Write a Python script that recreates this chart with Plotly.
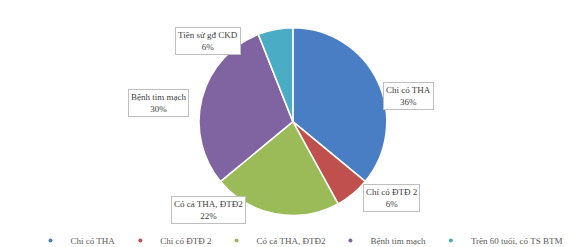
import plotly.graph_objects as go

categories = ["Chỉ có THA", "Chỉ có ĐTĐ 2", "Có cả THA, ĐTĐ2", "Bệnh tim mạch", "Trên 60 tuổi, có TS BTM"]
box_labels = ["Chỉ có THA", "Chỉ có ĐTĐ 2", "Có cả THA, ĐTĐ2", "Bệnh tim mạch", "Tiền sử gđ CKD"]
values = [36, 6, 22, 30, 6]
colors = ["#4A7EC4", "#C0504D", "#9BBB59", "#8064A2", "#4BACC6"]

W, H = 582, 247
fig = go.Figure(go.Pie(
    labels=categories, values=values, sort=False, direction="clockwise", rotation=0,
    marker=dict(colors=colors, line=dict(color="white", width=1.5)),
    textinfo="none", hoverinfo="label+percent", showlegend=False,
    domain=dict(x=[0.236, 0.743], y=[0.16, 0.92]),
))

# legend entries as small round bullets
for name, c in zip(categories, colors):
    fig.add_trace(go.Scatter(x=[None], y=[None], mode="markers", name=name,
                             marker=dict(color=c, size=4, symbol="circle")))

# label box centers in pixels
box_pos = [(426, 74), (412, 204), (200, 216), (120, 95), (200, 19)]
for lab, v, (px, py) in zip(box_labels, values, box_pos):
    fig.add_annotation(
        x=px / W, y=1 - py / H, xref="paper", yref="paper",
        text=f"{lab}<br>{v}%", showarrow=False,
        font=dict(family="Liberation Serif", size=9, color="#404040"),
        bordercolor="#BFBFBF", borderwidth=1, borderpad=2, bgcolor="white",
        align="center",
    )

fig.update_layout(
    width=W, height=H, margin=dict(l=0, r=0, t=0, b=0, autoexpand=False),
    paper_bgcolor="white", plot_bgcolor="white",
    xaxis=dict(visible=False), yaxis=dict(visible=False),
    legend=dict(orientation="h", x=0.5, xanchor="center", y=-0.02, yanchor="bottom",
                xref="container", yref="container",
                font=dict(family="Liberation Serif", size=9, color="#595959"),
                itemwidth=30, bgcolor="rgba(0,0,0,0)"),
    showlegend=True,
)
fig.write_html("out.html")
